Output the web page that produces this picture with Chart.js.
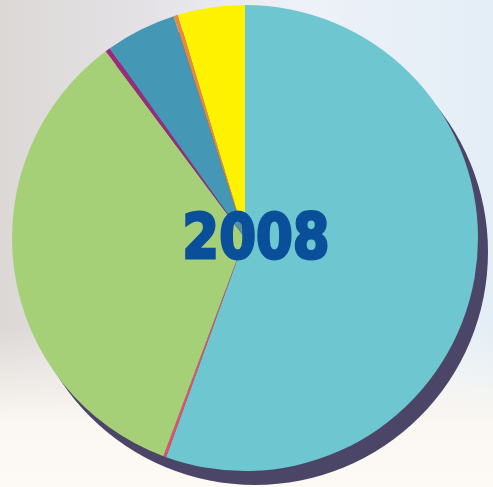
<!DOCTYPE html>
<html>
<head>
<meta charset="utf-8">
<script src="https://cdn.jsdelivr.net/npm/chart.js@4/dist/chart.umd.min.js"></script>
<style>
  html, body { margin: 0; padding: 0; }
  body {
    width: 493px; height: 487px; overflow: hidden; position: relative;
    background: linear-gradient(90deg, #dcd8d6 0%, #e4e2e6 30%, #eef1f8 60%, #e4eef6 100%);
  }
  #bgBottom {
    position: absolute; left: 0; right: 0; bottom: 0; height: 160px;
    background: linear-gradient(180deg, rgba(250,246,242,0) 0%, #fbf7f2 60%, #fdfaf5 100%);
  }
  #wrap { position: absolute; left: 0; top: 0; width: 493px; height: 487px; }
  #year {
    position: absolute; left: 256px; top: 236px;
    transform: translate(-50%, -50%) scaleX(0.84);
    font-family: "DejaVu Sans", sans-serif; font-weight: bold;
    font-size: 63px; color: #0a4f9a;
    -webkit-text-stroke: 3px #0a4f9a;
    line-height: 1; white-space: nowrap;
  }
</style>
</head>
<body>
<div id="bgBottom"></div>
<div id="wrap"><canvas id="pieChart" width="493" height="487"></canvas></div>
<div id="year">2008</div>
<script>
  // slice shares (%), clockwise from 12 o'clock
  const categories = ["A", "B", "C", "D", "E", "F", "G"];
  const shares = [55.5, 0.2, 34.1, 0.35, 4.9, 0.3, 4.65];
  const colors = ["#6ec6d0", "#e8506a", "#a6d077", "#9b2a7c", "#4497b5", "#e58a45", "#fff200"];

  // dark offset disc behind the pie
  const shadowPlugin = {
    id: "shadow",
    beforeDatasetsDraw(chart) {
      const arc = chart.getDatasetMeta(0).data[0];
      if (!arc) return;
      const ctx = chart.ctx;
      ctx.save();
      ctx.fillStyle = "#4b4567";
      ctx.beginPath();
      ctx.arc(arc.x + 10, arc.y + 14, arc.outerRadius, 0, Math.PI * 2);
      ctx.fill();
      ctx.restore();
    }
  };

  const ctx = document.getElementById("pieChart").getContext("2d");
  new Chart(ctx, {
    type: "pie",
    data: {
      labels: categories,
      datasets: [
        {
          data: shares,
          backgroundColor: colors,
          borderWidth: 0,
        },
      ],
    },
    options: {
      responsive: false,
      animation: false,
      layout: { padding: { left: 12, right: 15, top: 5, bottom: 16 } },
      plugins: {
        legend: { display: false },
        tooltip: { enabled: false },
      },
    },
    plugins: [shadowPlugin],
  });
</script>
</body>
</html>
